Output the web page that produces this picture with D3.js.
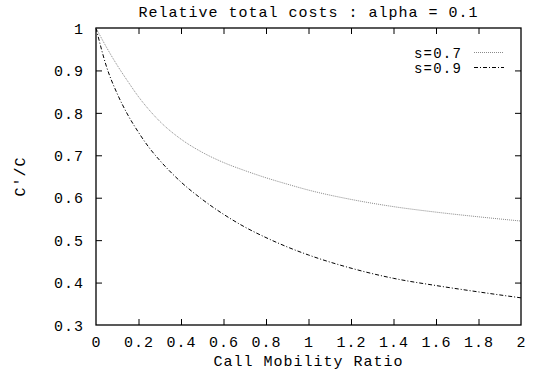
<!DOCTYPE html>
<html>
<head>
<meta charset="utf-8">
<script src="https://cdn.jsdelivr.net/npm/d3@7"></script>
<style>
  html, body { margin: 0; padding: 0; background: #fff; }
  text { font-family: "Liberation Mono", "DejaVu Sans Mono", monospace; font-size: 15px; fill: #000; letter-spacing: 1px; }
  text.leg { font-size: 14px; letter-spacing: 1.2px; }
</style>
</head>
<body>
<svg id="chart" width="536" height="375"></svg>
<script>
const titleText = "Relative total costs : alpha = 0.1";
const xLabel = "Call Mobility Ratio";
const yLabel = "C'/C";
const xTicks = [0, 0.2, 0.4, 0.6, 0.8, 1, 1.2, 1.4, 1.6, 1.8, 2];
const yTicks = [0.3, 0.4, 0.5, 0.6, 0.7, 0.8, 0.9, 1];
const seriesNames = ["s=0.7", "s=0.9"];
const ratio = [0, 0.05, 0.1, 0.15, 0.2, 0.25, 0.3, 0.4, 0.5, 0.6, 0.7, 0.8, 0.9, 1.0, 1.2, 1.4, 1.6, 1.8, 2.0];
const s07 = [1.0, 0.954, 0.912, 0.874, 0.838, 0.807, 0.780, 0.738, 0.707, 0.683, 0.664, 0.647, 0.632, 0.618, 0.596, 0.579, 0.566, 0.555, 0.545];
const s09 = [1.0, 0.908, 0.845, 0.795, 0.754, 0.718, 0.688, 0.637, 0.596, 0.561, 0.531, 0.506, 0.484, 0.465, 0.434, 0.410, 0.393, 0.378, 0.364];

(function () {
const svg = d3.select("#chart");
const pL = 96, pR = 521, pT = 28, pB = 325;
const x = d3.scaleLinear().domain([0, 2]).range([pL, pR]);
const y = d3.scaleLinear().domain([0.3, 1]).range([pB, pT]);
const tickLen = 6;

// title
svg.append("text").attr("x", (pL + pR) / 2).attr("y", 17)
  .attr("text-anchor", "middle").text(titleText);

// axes with inward ticks (and mirrored)
const gx = svg.append("g").attr("transform", `translate(0,${pB})`)
  .call(d3.axisBottom(x).tickValues(xTicks).tickSize(-tickLen).tickPadding(12).tickFormat(d3.format("")));
const gxt = svg.append("g").attr("transform", `translate(0,${pT})`)
  .call(d3.axisTop(x).tickValues(xTicks).tickSize(-tickLen).tickFormat(""));
const gy = svg.append("g").attr("transform", `translate(${pL},0)`)
  .call(d3.axisLeft(y).tickValues(yTicks).tickSize(-tickLen).tickPadding(12).tickFormat(d3.format("")));
const gyr = svg.append("g").attr("transform", `translate(${pR},0)`)
  .call(d3.axisRight(y).tickValues(yTicks).tickSize(-tickLen).tickFormat(""));
[gx, gxt, gy, gyr].forEach(g => {
  g.select(".domain").remove();
  g.selectAll("line").attr("stroke", "#000");
  g.selectAll("text").attr("font-family", null).attr("font-size", null).attr("fill", "#000");
});
gx.selectAll("text").attr("dy", "0.68em");
gy.selectAll("text").attr("dy", "0.35em");
gxt.selectAll(".tick").filter(d => d === 0 || d === 2).remove();
gyr.selectAll(".tick").filter(d => d === 0.3 || d === 1).remove();
gx.selectAll(".tick line").filter(d => d === 0 || d === 2).remove();
gy.selectAll(".tick line").filter(d => d === 0.3 || d === 1).remove();

// border
svg.append("rect").attr("x", pL).attr("y", pT).attr("width", pR - pL).attr("height", pB - pT)
  .attr("fill", "none").attr("stroke", "#000").attr("stroke-width", 1.3);

// axis labels
svg.append("text").attr("x", (pL + pR) / 2).attr("y", 366).attr("text-anchor", "middle").text(xLabel);
svg.append("text").attr("transform", `translate(25,${(pT + pB) / 2}) rotate(-90)`)
  .attr("text-anchor", "middle").text(yLabel);

// lines
const line = d3.line().x((d, i) => x(ratio[i])).y(d => y(d)).curve(d3.curveMonotoneX);
const styles = [
  { data: s07, stroke: "#8a8a8a", dash: "1,1" },
  { data: s09, stroke: "#000", dash: "4,2,1,2" }
];
styles.forEach(st => {
  svg.append("path").attr("d", line(st.data)).attr("fill", "none")
    .attr("stroke", st.stroke).attr("stroke-width", 1).attr("stroke-dasharray", st.dash);
});

// legend
const legY = [57.5, 72.5];
seriesNames.forEach((name, i) => {
  svg.append("text").attr("class", "leg").attr("x", 462).attr("y", legY[i]).attr("text-anchor", "end").text(name);
  svg.append("line").attr("x1", 474).attr("x2", 504).attr("y1", legY[i] - 5).attr("y2", legY[i] - 5)
    .attr("stroke", styles[i].stroke).attr("stroke-width", 1).attr("stroke-dasharray", styles[i].dash);
});
})();
</script>
</body>
</html>
